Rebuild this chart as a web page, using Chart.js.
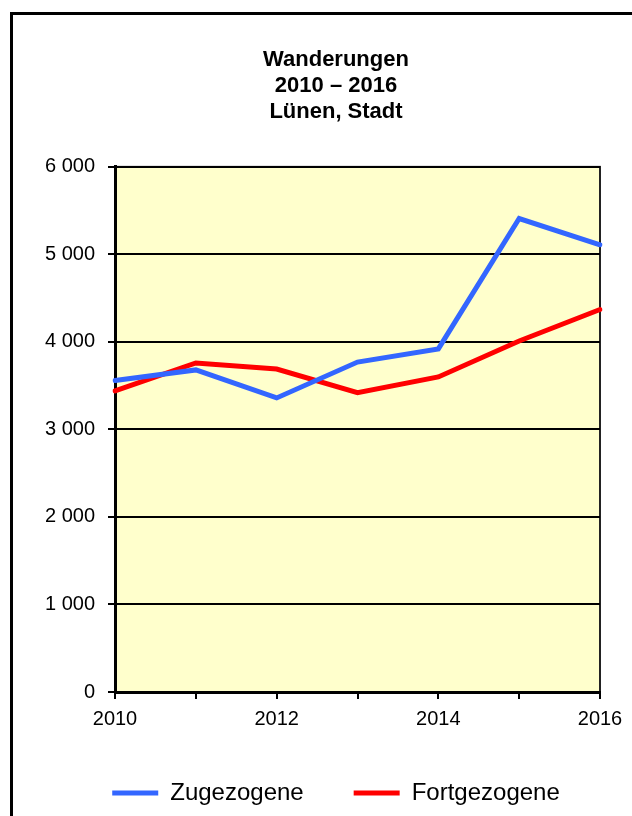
<!DOCTYPE html>
<html lang="de">
<head>
  <meta charset="utf-8">
  <title>Wanderungen 2010 – 2016</title>
  <script src="https://cdn.jsdelivr.net/npm/chart.js"></script>
  <style>
    html, body { margin: 0; padding: 0; background: #fff; overflow: hidden; width: 632px; height: 816px; }
    .frame { position: absolute; left: 10px; top: 12px; width: 700px; height: 900px; border: 3px solid #000; }
    #chart { position: absolute; left: 0; top: 0; }
  </style>
</head>
<body>
  <div class="frame"></div>
  <canvas id="chart" width="700" height="816"></canvas>

  <script>
    const years = ['2010', '2011', '2012', '2013', '2014', '2015', '2016'];
    const zugezogene = [3560, 3680, 3360, 3770, 3920, 5410, 5110];
    const fortgezogene = [3440, 3760, 3690, 3420, 3600, 4010, 4370];
    const yTicks = [0, 1000, 2000, 3000, 4000, 5000, 6000];

    const font = "'Liberation Sans', Arial, sans-serif";

    // yellow plot background and thin frame round the chart area
    const plotArea = {
      id: 'plotArea',
      beforeDraw(chart) {
        const { ctx, chartArea: a } = chart;
        ctx.save();
        ctx.fillStyle = '#FFFFCC';
        ctx.fillRect(a.left, a.top, a.right - a.left, a.bottom - a.top);
        ctx.strokeStyle = '#222';
        ctx.lineWidth = 2;
        ctx.strokeRect(a.left, a.top, a.right - a.left, a.bottom - a.top);
        ctx.restore();
      }
    };

    new Chart(document.getElementById('chart').getContext('2d'), {
      type: 'line',
      data: {
        labels: years,
        datasets: [
          { label: 'Zugezogene', data: zugezogene, borderColor: '#3366FF', backgroundColor: '#3366FF', borderWidth: 5, pointRadius: 0, tension: 0, borderCapStyle: 'round' },
          { label: 'Fortgezogene', data: fortgezogene, borderColor: '#FF0000', backgroundColor: '#FF0000', borderWidth: 5, pointRadius: 0, tension: 0, borderCapStyle: 'round' }
        ]
      },
      options: {
        responsive: false,
        animation: false,
        layout: { padding: { left: 20, right: 48, top: 15, bottom: 1 } },
        plugins: {
          title: {
            display: true,
            text: ['Wanderungen', '2010 – 2016', 'Lünen, Stadt'],
            color: '#000',
            font: { family: font, size: 22, weight: 'bold', lineHeight: 1.18 },
            padding: { top: 32, bottom: 42 }
          },
          legend: {
            position: 'bottom',
            labels: {
              color: '#000',
              font: { family: font, size: 24 },
              usePointStyle: true,
              pointStyle: 'line',
              pointStyleWidth: 46,
              padding: 50
            }
          },
          tooltip: { enabled: false }
        },
        scales: {
          x: {
            offset: false,
            afterFit(scale) { scale.height = 39; },
            border: { color: '#000', width: 3 },
            grid: { drawOnChartArea: false, drawTicks: true, tickLength: 7, color: '#000', lineWidth: 2 },
            ticks: {
              color: '#000',
              font: { family: font, size: 20 },
              padding: 8,
              maxRotation: 0,
              autoSkip: false,
              callback(value, index) { return index % 2 === 0 ? years[index] : ''; }
            }
          },
          y: {
            min: 0,
            max: 6000,
            afterFit(scale) { scale.width = 95; },
            afterBuildTicks(scale) { scale.ticks = yTicks.map(v => ({ value: v })); },
            border: { color: '#000', width: 3 },
            grid: { color: '#000', lineWidth: 2, tickLength: 7 },
            ticks: {
              color: '#000',
              font: { family: font, size: 20 },
              padding: 13,
              callback(value) { return String(value).replace(/\B(?=(\d{3})+(?!\d))/g, ' '); }
            }
          },
          // empty right-hand axis: only keeps the plot edge at the same place as the original
          spacer: {
            type: 'linear',
            position: 'right',
            afterFit(scale) { scale.width = 52; },
            border: { display: false },
            grid: { display: false },
            ticks: { display: false }
          }
        }
      },
      plugins: [plotArea]
    });
  </script>
</body>
</html>
